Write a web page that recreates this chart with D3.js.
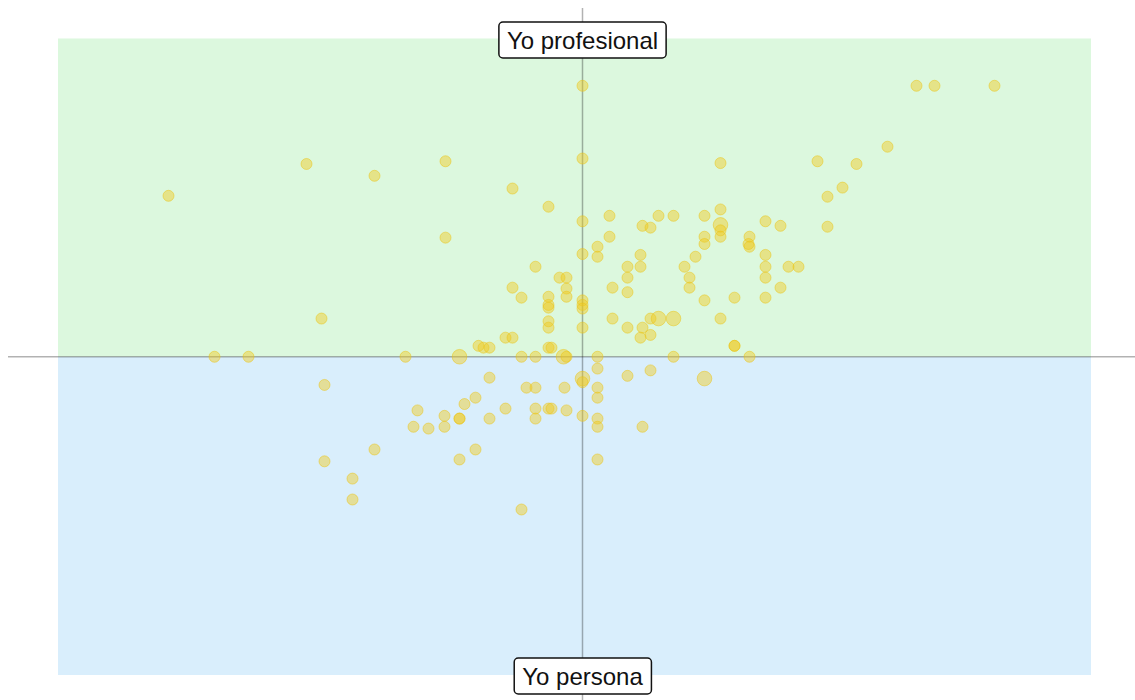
<!DOCTYPE html>
<html>
<head>
<meta charset="utf-8">
<script src="https://cdn.jsdelivr.net/npm/d3@7"></script>
<style>
  html, body { margin: 0; padding: 0; background: #fff; }
  svg { display: block; }
</style>
</head>
<body>
<svg id="chart" width="1135" height="700"></svg>
<script>
// ---- data ----
const xValues = [
  -4.14, -2.76, -2.08, 0.00, 3.34, 3.52, 4.12, 3.05, 2.35, 2.74,
  2.60, 2.45, 2.45, 1.83, 1.98, -1.37, 0.00, 1.38, -0.70, -0.34,
  0.00, 0.27, 0.60, 0.68, 0.76, 0.91, 1.22, 1.38, 1.38, 1.38,
  1.38, 1.22, 1.22, 1.67, 1.66, 1.67, -1.37, 0.27, 0.15, 0.15,
  0.00, 0.58, 0.58, 0.45, 0.45, 1.13, 1.02, 1.07, 1.07, 1.83,
  1.83, 1.83, 2.06, 2.16, 1.98, 1.83, 1.52, 1.22, 0.30, 0.45,
  0.30, 0.68, 0.76, 0.91, 1.38, 0.45, 0.60, 0.68, 0.58, 1.52,
  1.52, 0.15, 0.91, 1.67, 0.15, 0.68, 1.22, 0.60, 0.45, -2.61,
  -0.47, -0.23, -0.16, -0.16, -0.16, -0.70, -0.61, -0.34, -0.34, -0.34,
  0.00, 0.00, 0.00, -0.34, -0.34, 0.00, -0.77, -0.70, -1.04, -0.99,
  -0.93, -0.34, -0.31, -3.68, -3.34, -1.77, -1.23, -0.61, -0.47, -0.19,
  -0.16, -2.58, -2.08, -2.58, -2.30, -2.30, 0.00, 0.00, -0.93, -0.56,
  -0.47, -0.18, 0.15, 0.15, -1.07, -1.18, -1.65, -1.38, -1.23, -1.23,
  -0.77, -0.47, -0.34, -0.31, -0.16, 0.00, -0.93, -0.47, 0.15, 0.15,
  -1.69, -1.54, -1.38, -1.07, -1.23, 0.15, -0.61
];
const yValues = [
  1.77, 2.12, 1.99, 2.98, 2.98, 2.98, 2.98, 2.31, 2.15, 2.12,
  1.86, 1.76, 1.43, 1.49, 1.44, 2.15, 2.18, 2.13, 1.85, 1.65,
  1.49, 1.55, 1.44, 1.42, 1.55, 1.55, 1.55, 1.62, 1.45, 1.39,
  1.32, 1.32, 1.24, 1.32, 1.24, 1.21, 1.31, 1.32, 1.21, 1.10,
  1.13, 1.12, 0.99, 0.99, 0.87, 1.10, 0.99, 0.87, 0.76, 1.12,
  0.99, 0.87, 0.99, 0.99, 0.76, 0.65, 0.65, 0.62, 0.76, 0.71,
  0.42, 0.42, 0.42, 0.42, 0.42, 0.32, 0.32, 0.24, 0.21, 0.12,
  0.12, 0.00, 0.00, 0.00, -0.13, -0.15, -0.24, -0.77, -0.21, 0.42,
  0.99, 0.87, 0.87, 0.75, 0.66, 0.76, 0.65, 0.66, 0.57, 0.54,
  0.62, 0.57, 0.53, 0.39, 0.32, 0.32, 0.21, 0.21, 0.12, 0.10,
  0.10, 0.10, 0.10, 0.00, 0.00, 0.00, 0.00, 0.00, 0.00, 0.00,
  0.00, -0.31, -1.02, -1.15, -1.34, -1.57, -0.24, -0.28, -0.23, -0.34,
  -0.34, -0.34, -0.34, -0.45, -0.45, -0.52, -0.59, -0.65, -0.68, -0.68,
  -0.57, -0.57, -0.57, -0.57, -0.59, -0.65, -0.68, -0.68, -0.68, -0.77,
  -0.77, -0.79, -0.77, -1.02, -1.13, -1.13, -1.68
];
const counts = [
  1, 1, 1, 1, 1, 1, 1, 1, 1, 1,
  1, 1, 1, 1, 1, 1, 1, 1, 1, 1,
  1, 1, 1, 1, 1, 1, 1, 1, 2, 1,
  1, 1, 1, 1, 1, 1, 1, 1, 1, 1,
  1, 1, 1, 1, 1, 1, 1, 1, 1, 1,
  1, 1, 1, 1, 1, 1, 1, 1, 1, 1,
  1, 1, 2, 2, 1, 1, 1, 1, 1, 1,
  1, 1, 1, 1, 1, 1, 2, 1, 1, 1,
  1, 1, 1, 1, 1, 1, 1, 1, 1, 1,
  1, 1, 1, 1, 1, 1, 1, 1, 1, 1,
  1, 1, 1, 1, 1, 1, 2, 1, 1, 2,
  1, 1, 1, 1, 1, 1, 2, 1, 1, 1,
  1, 1, 1, 1, 1, 1, 1, 1, 1, 1,
  1, 1, 1, 1, 1, 1, 1, 1, 1, 1,
  1, 1, 1, 1, 1, 1, 1
];
const topLabel = "Yo profesional";
const bottomLabel = "Yo persona";
const xDomain = [-5.245, 5.085];
const yDomain = [-3.5, 3.5];

// ---- drawing ----
const svg = d3.select("#chart");
const W = 1135, H = 700;

const x = d3.scaleLinear().domain(xDomain).range([58, 1091]);
const y = d3.scaleLinear().domain(yDomain).range([675, 38.5]);
const r = d3.scaleSqrt().domain([1, 2]).range([5.5, 7.3]);

// quadrant backgrounds
svg.append("rect")
  .attr("x", x(xDomain[0])).attr("y", y(yDomain[1]))
  .attr("width", x(xDomain[1]) - x(xDomain[0]))
  .attr("height", y(0) - y(yDomain[1]))
  .attr("fill", "#dcf8de");
svg.append("rect")
  .attr("x", x(xDomain[0])).attr("y", y(0))
  .attr("width", x(xDomain[1]) - x(xDomain[0]))
  .attr("height", y(yDomain[0]) - y(0))
  .attr("fill", "#d9eefc");

// axes through origin
svg.append("line")
  .attr("x1", 8).attr("x2", W)
  .attr("y1", y(0)).attr("y2", y(0))
  .attr("stroke", "#000").attr("stroke-opacity", 0.3).attr("stroke-width", 1.5);
svg.append("line")
  .attr("x1", x(0)).attr("x2", x(0))
  .attr("y1", 8).attr("y2", H)
  .attr("stroke", "#000").attr("stroke-opacity", 0.3).attr("stroke-width", 1.5);

// points
const pts = xValues.map((v, i) => ({x: v, y: yValues[i], c: counts[i]}));
svg.append("g").selectAll("circle")
  .data(pts)
  .join("circle")
  .attr("cx", d => x(d.x))
  .attr("cy", d => y(d.y))
  .attr("r", d => r(d.c))
  .attr("fill", "rgb(240,202,30)")
  .attr("fill-opacity", 0.45)
  .attr("stroke", "rgb(236,196,20)")
  .attr("stroke-opacity", 0.5)
  .attr("stroke-width", 1);

// labels
function label(text, cy, fontSize) {
  const g = svg.append("g");
  const t = g.append("text")
    .attr("x", x(0)).attr("y", cy)
    .attr("text-anchor", "middle")
    .attr("dominant-baseline", "central")
    .attr("font-family", "Liberation Sans, Arial, sans-serif")
    .attr("font-size", fontSize)
    .attr("fill", "#111")
    .text(text);
  const bb = t.node().getBBox();
  g.insert("rect", "text")
    .attr("x", bb.x - 8).attr("y", cy - 18)
    .attr("width", bb.width + 16).attr("height", 36)
    .attr("rx", 4).attr("ry", 4)
    .attr("fill", "#fff")
    .attr("stroke", "#111").attr("stroke-width", 1.5);
}
label(topLabel, 40, 24);
label(bottomLabel, 676, 24);
</script>
</body>
</html>
